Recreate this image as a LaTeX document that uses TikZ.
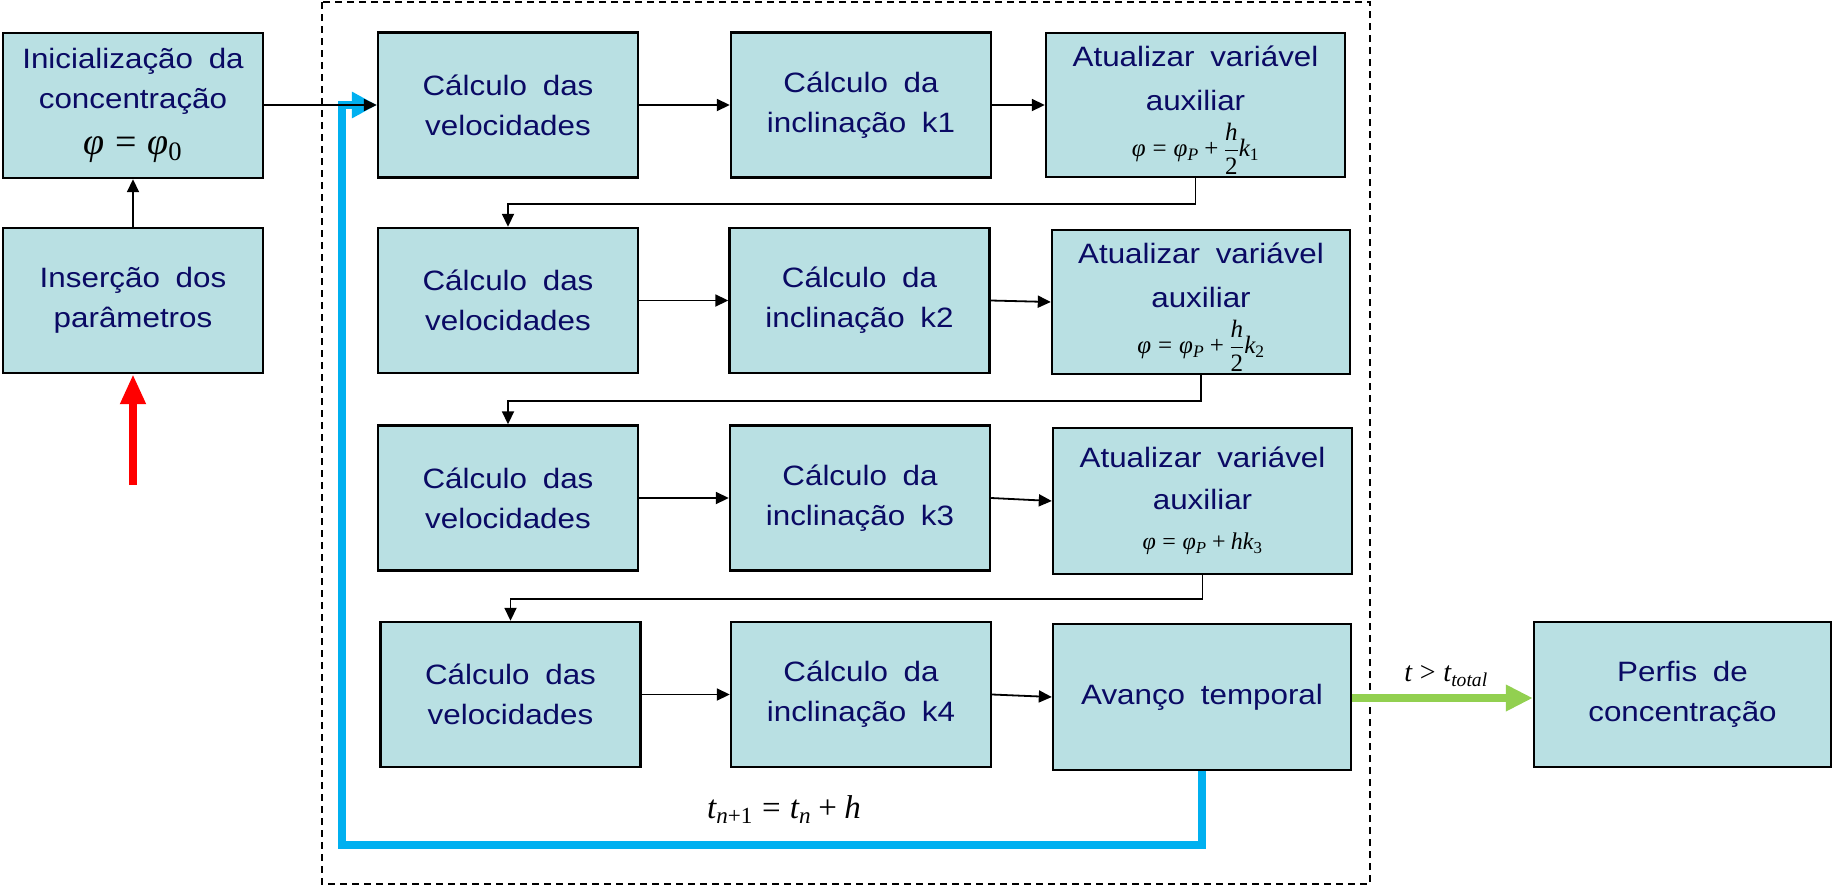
\RequirePackage{fix-cm}
\documentclass[tikz,border=0pt]{standalone}
\usepackage{amsmath}
\usepackage[no-math]{fontspec}
\setmainfont{Liberation Sans}[FakeStretch=1.12, WordSpace=1.8]
\newfontfamily\tserif{Liberation Serif}[NFSSFamily=libserif]
\DeclareSymbolFont{tletters}{TU}{libserif}{m}{it}
\DeclareSymbolFont{tops}{TU}{libserif}{m}{n}
\newcount\lettc
\lettc=97
\loop\Umathcode\lettc="7 \symtletters \lettc \advance\lettc by 1 \ifnum\lettc<123 \repeat
\lettc=65
\loop\Umathcode\lettc="7 \symtletters \lettc \advance\lettc by 1 \ifnum\lettc<91 \repeat
\lettc=48
\loop\Umathcode\lettc="7 \symtops \lettc \advance\lettc by 1 \ifnum\lettc<58 \repeat
\Umathcode61="3 \symtops 61
\Umathcode62="3 \symtops 62
\Umathcode43="2 \symtops 43
\Umathchardef\tphi="0 \symtletters "03C6
\usetikzlibrary{arrows.meta}
\definecolor{boxfill}{RGB}{185,224,227}
\definecolor{navy}{RGB}{10,10,100}
\definecolor{loopblue}{RGB}{0,176,240}
\definecolor{okgreen}{RGB}{146,208,80}
\definecolor{inred}{RGB}{255,0,0}
\begin{document}
\begin{tikzpicture}[x=1pt,y=-1pt]
\tikzset{
  blk/.style={draw=black, line width=2.4pt, fill=boxfill, text=navy, align=center,
    inner sep=0pt, font=\fontsize{28}{40}\selectfont},
  upd/.style={blk, font=\fontsize{28}{44}\selectfont},
  wide/.style={minimum width=260pt, minimum height=145pt},
  conn/.style={draw=black, line width=1.8pt, -{Triangle[length=13pt,width=12pt]}},
  fat/.style={line width=8pt, line join=miter},
  eqn/.style={text=black, inner sep=0pt},
}
\useasboundingbox (0,0) rectangle (1833,886);
% dashed frame
\draw[line width=2pt, dash pattern=on 7pt off 5pt] (322,2) rectangle (1370,884);

% left column
\node[blk, wide] (init) at (133,105.5) {Inicialização da\\concentração\\[6pt]{\color{black}\fontsize{38}{38}\selectfont$\tphi=\tphi_0$}};
\node[blk, wide] (ins) at (133,300.5) {Inserção dos\\parâmetros};

% row 1
\node[blk, wide] (A1) at (508,105) {Cálculo das\\velocidades};
\node[blk, wide] (B1) at (861,105) {Cálculo da\\inclinação k1};
\node[upd, minimum width=299pt, minimum height=144pt] (C1) at (1195.5,105) {\rule{0pt}{31pt}Atualizar variável\\auxiliar\\[2pt]{\color{black}\fontsize{25}{25}\selectfont$\tphi=\tphi_P+\dfrac{h}{2}k_1$}};
% row 2
\node[blk, wide] (A2) at (508,300.5) {Cálculo das\\velocidades};
\node[blk, wide] (B2) at (859.5,300.5) {Cálculo da\\inclinação k2};
\node[upd, minimum width=298pt, minimum height=144pt] (C2) at (1201,302) {\rule{0pt}{31pt}Atualizar variável\\auxiliar\\[2pt]{\color{black}\fontsize{25}{25}\selectfont$\tphi=\tphi_P+\dfrac{h}{2}k_2$}};
% row 3
\node[blk, wide] (A3) at (508,498) {Cálculo das\\velocidades};
\node[blk, wide] (B3) at (860,498) {Cálculo da\\inclinação k3};
\node[blk, minimum width=299pt, minimum height=146pt] (C3) at (1202.5,501) {Atualizar variável\\[2pt]auxiliar\\[0pt]{\color{black}\fontsize{24}{24}\selectfont$\tphi=\tphi_P+hk_3$}};
% row 4
\node[blk, wide] (A4) at (510.5,694.5) {Cálculo das\\velocidades};
\node[blk, wide] (B4) at (861,694.5) {Cálculo da\\inclinação k4};
\node[blk, minimum width=298pt, minimum height=146pt] (C4) at (1202,697) {Avanço temporal};
% output
\node[blk, minimum width=297pt, minimum height=145pt] (P) at (1682.5,694.5) {Perfis de\\concentração};

% labels
\node[eqn, font=\fontsize{28}{28}\selectfont] (tt) at (1446,676) {$t>t_{total}$};
\node[eqn, font=\fontsize{33}{33}\selectfont] (tn) at (784,810) {$t_{n+1}=t_n+h$};

% coordinates for free ends
\coordinate (redS) at (133,485);
\coordinate (loopL) at (342,845);

% thick arrows
\draw[fat, draw=loopblue, -{Triangle[length=25pt,width=25pt]}] (C4.south) |- (loopL) |- (A1.west);
\draw[fat, draw=inred, -{Triangle[length=30pt,width=24pt]}] (redS) -- (ins.south);
\draw[fat, draw=okgreen, -{Triangle[length=27pt,width=25pt]}] (C4.east |- 0,698) -- (P.west |- 0,698);

% thin connectors
\draw[conn] (init.east |- A1.west) -- (A1.west);
\draw[conn] (ins.north) -- (init.south);
\draw[conn] (A1.east) -- (B1.west);
\draw[conn] (B1.east) -- (C1.west);
\draw[conn] (A2.east) -- (B2.west);
\draw[conn] (B2.east) -- (C2.west);
\draw[conn] (A3.east) -- (B3.west);
\draw[conn] (B3.east) -- (C3.west);
\draw[conn] (A4.east) -- (B4.west);
\draw[conn] (B4.east) -- (C4.west);
\draw[conn] (C1.south) -- ++(0,26) -| (A2.north);
\draw[conn] (C2.south) -- ++(0,26) -| (A3.north);
\draw[conn] (C3.south) -- ++(0,24) -| (A4.north);
\end{tikzpicture}
\end{document}
